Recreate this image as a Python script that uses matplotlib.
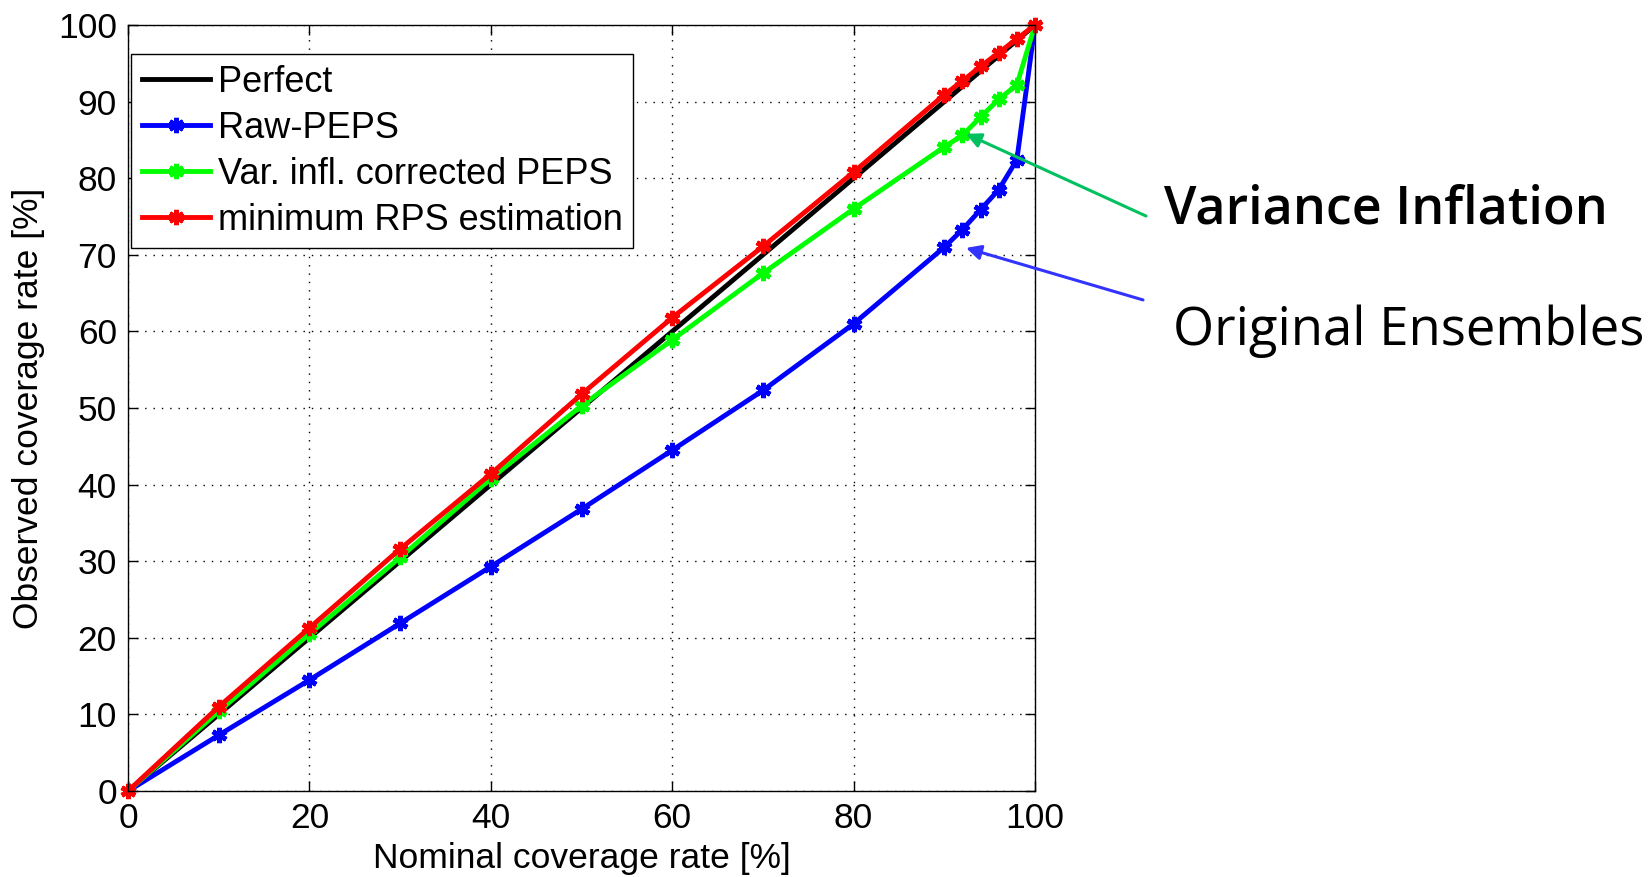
import matplotlib
matplotlib.use("Agg")
import matplotlib.pyplot as plt
import numpy as np

# Coverage rates [%]
nominal = [0, 10, 20, 30, 40, 50, 60, 70, 80, 90, 92, 94, 96, 98, 100]
perfect = [0, 100]
raw_peps = [0, 7.3, 14.5, 21.9, 29.3, 36.8, 44.5, 52.3, 61.0, 71.0, 73.3, 75.9, 78.5, 82.4, 100]
var_infl = [0, 10.4, 20.5, 30.5, 40.8, 50.3, 58.9, 67.6, 76.0, 84.1, 85.6, 88.0, 90.3, 92.2, 100]
min_rps = [0, 11.0, 21.3, 31.6, 41.4, 51.8, 61.8, 71.1, 80.8, 90.9, 92.7, 94.6, 96.4, 98.2, 100]

series_labels = ["Perfect", "Raw-PEPS", "Var. infl. corrected PEPS", "minimum RPS estimation"]
ticks = [0, 10, 20, 30, 40, 50, 60, 70, 80, 90, 100]
xticks = [0, 20, 40, 60, 80, 100]

plt.rcParams["font.family"] = ["Liberation Sans", "DejaVu Sans"]

fig = plt.figure(figsize=(16.52, 8.77), dpi=100)
fig.patch.set_facecolor("white")
ax = fig.add_axes([0.0775, 0.098, 0.549, 0.8734])

star = (6, 2, 0)
ax.plot(perfect, perfect, color="black", lw=3.5, label=series_labels[0])
ax.plot(nominal, raw_peps, color="#0000FF", lw=3.5, marker=star, ms=11, mew=3.5,
        label=series_labels[1])
ax.plot(nominal, var_infl, color="#00FF00", lw=3.5, marker=star, ms=11, mew=3.5,
        label=series_labels[2])
ax.plot(nominal, min_rps, color="#FF0000", lw=3.5, marker=star, ms=11, mew=3.5,
        label=series_labels[3], clip_on=False)

ax.set_xlim(0, 100)
ax.set_ylim(0, 100)
ax.set_xticks(xticks)
ax.set_yticks(ticks)
ax.tick_params(direction="in", length=7, width=1, labelsize=25.5, pad=8,
               top=True, right=True)
for s in ax.spines.values():
    s.set_linewidth(1.0)
ax.grid(True, color="black", linestyle=(0, (1, 5)), linewidth=1.0)

ax.set_xlabel("Nominal coverage rate [%]", fontsize=25.5, labelpad=5)
ax.set_ylabel("Observed coverage rate [%]", fontsize=25.5, labelpad=9)

leg = ax.legend(loc="upper left", bbox_to_anchor=(0.0033, 0.962), fontsize=26,
                frameon=True, fancybox=False, framealpha=1, edgecolor="black",
                handlelength=1.9, handletextpad=0.2, borderpad=0.3,
                labelspacing=0.3, borderaxespad=0)
leg.get_frame().set_linewidth(1.0)

# call-out arrows and labels to the right of the axes
arrow_green = "#00C060"
arrow_blue = "#3333FF"
ax.annotate("", xy=(92.4, 85.8), xycoords="data",
            xytext=(0.6937, 0.7537), textcoords="figure fraction",
            arrowprops=dict(arrowstyle="-|>", color=arrow_green, lw=2.2,
                            mutation_scale=22, shrinkA=0, shrinkB=0),
            annotation_clip=False)
ax.annotate("", xy=(92.4, 70.9), xycoords="data",
            xytext=(0.6919, 0.658), textcoords="figure fraction",
            arrowprops=dict(arrowstyle="-|>", color=arrow_blue, lw=2.2,
                            mutation_scale=22, shrinkA=0, shrinkB=0),
            annotation_clip=False)

fig.text(0.7046, 1 - 224 / 877, "Variance Inflation", fontsize=37.5,
         family=["Open Sans", "DejaVu Sans"], fontweight="semibold",
         ha="left", va="baseline")
fig.text(0.7100, 1 - 345 / 877, "Original Ensembles", fontsize=38,
         family=["Open Sans", "DejaVu Sans"], fontweight="normal",
         ha="left", va="baseline")

fig.savefig("out.png", dpi=100)
